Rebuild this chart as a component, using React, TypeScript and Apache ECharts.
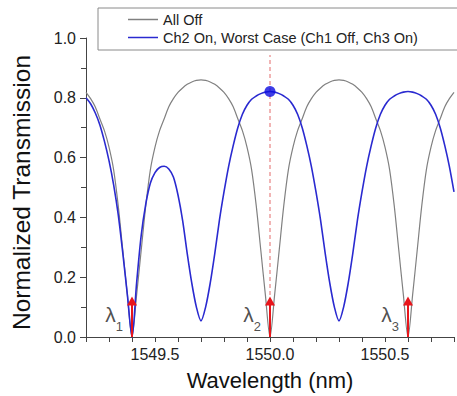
import React, { useEffect, useRef } from 'react';
import * as echarts from 'echarts';

const wavelength = [
  1549.20, 1549.22, 1549.24, 1549.26, 1549.28, 1549.30, 1549.32, 1549.34, 1549.36, 1549.38,
  1549.40, 1549.42, 1549.44, 1549.46, 1549.48, 1549.50, 1549.52, 1549.54, 1549.56, 1549.58,
  1549.60, 1549.62, 1549.64, 1549.66, 1549.68, 1549.70, 1549.72, 1549.74, 1549.76, 1549.78,
  1549.80, 1549.82, 1549.84, 1549.86, 1549.88, 1549.90, 1549.92, 1549.94, 1549.96, 1549.98,
  1550.00, 1550.02, 1550.04, 1550.06, 1550.08, 1550.10, 1550.12, 1550.14, 1550.16, 1550.18,
  1550.20, 1550.22, 1550.24, 1550.26, 1550.28, 1550.30, 1550.32, 1550.34, 1550.36, 1550.38,
  1550.40, 1550.42, 1550.44, 1550.46, 1550.48, 1550.50, 1550.52, 1550.54, 1550.56, 1550.58,
  1550.60, 1550.62, 1550.64, 1550.66, 1550.68, 1550.70, 1550.72, 1550.74, 1550.76, 1550.78,
  1550.80,
];

const allOff = [
  0.818, 0.797, 0.77, 0.73, 0.69, 0.635, 0.56, 0.44, 0.29, 0.14,
  0.0, 0.14, 0.29, 0.44, 0.56, 0.635, 0.69, 0.73, 0.77, 0.797,
  0.818, 0.833, 0.845, 0.853, 0.858, 0.86, 0.858, 0.853, 0.845, 0.833,
  0.818, 0.797, 0.77, 0.73, 0.69, 0.635, 0.56, 0.44, 0.29, 0.14,
  0.0, 0.14, 0.29, 0.44, 0.56, 0.635, 0.69, 0.73, 0.77, 0.797,
  0.818, 0.833, 0.845, 0.853, 0.858, 0.86, 0.858, 0.853, 0.845, 0.833,
  0.818, 0.797, 0.77, 0.73, 0.69, 0.635, 0.56, 0.44, 0.29, 0.14,
  0.0, 0.14, 0.29, 0.44, 0.56, 0.635, 0.69, 0.73, 0.77, 0.797,
  0.818,
];

const ch2On = [
  0.80, 0.78, 0.75, 0.71, 0.655, 0.59, 0.51, 0.41, 0.28, 0.14,
  0.0, 0.18, 0.34, 0.445, 0.515, 0.55, 0.567, 0.571, 0.562, 0.535,
  0.475, 0.39, 0.28, 0.18, 0.10, 0.054, 0.10, 0.18, 0.28, 0.39,
  0.485, 0.57, 0.64, 0.70, 0.745, 0.775, 0.795, 0.806, 0.814, 0.819,
  0.821, 0.819, 0.814, 0.806, 0.795, 0.775, 0.745, 0.70, 0.64, 0.57,
  0.485, 0.39, 0.28, 0.18, 0.10, 0.054, 0.10, 0.18, 0.28, 0.39,
  0.485, 0.57, 0.64, 0.70, 0.745, 0.775, 0.795, 0.806, 0.814, 0.819,
  0.821, 0.819, 0.814, 0.806, 0.795, 0.775, 0.745, 0.70, 0.64, 0.57,
  0.485,
];

const seriesNames = ['All Off', 'Ch2 On, Worst Case (Ch1 Off, Ch3 On)'];
const xTickLabels = ['1549.5', '1550.0', '1550.5'];
const yTickLabels = ['0.0', '0.2', '0.4', '0.6', '0.8', '1.0'];
const lambdaPositions = [1549.4, 1550.0, 1550.6];
const lambdaSubscripts = ['1', '2', '3'];
const arrowTop = 0.12;
const lambdaLabelY = 0.078;
const markerPoint = [1550.0, 0.821];
const dashedLine = [
  [1550.0, 0.0],
  [1550.0, 0.943],
];

const FONT = '"Liberation Sans", Arial, Helvetica, sans-serif';

export default function App() {
  const ref = useRef<HTMLDivElement>(null);

  useEffect(() => {
    if (!ref.current) return;
    const chart = echarts.init(ref.current, null, { renderer: 'svg' });
    chart.setOption({
      animation: false,
      backgroundColor: '#ffffff',
      grid: { left: 86, right: -7, top: 38, bottom: 58 },
      legend: {
        data: seriesNames,
        orient: 'vertical',
        left: 98,
        top: 8,
        icon: 'rect',
        itemWidth: 30,
        itemHeight: 1.5,
        itemGap: 3,
        padding: [4, 44, 5, 30],
        borderColor: '#8a8a8a',
        borderWidth: 1,
        textStyle: { fontSize: 14.5, color: '#222', fontFamily: FONT },
        selectedMode: false,
      },
      xAxis: {
        type: 'value',
        min: 1549.2,
        max: 1550.8,
        interval: 0.1,
        axisLine: { show: true, onZero: false, lineStyle: { color: '#444', width: 1 } },
        axisTick: { show: true, inside: false, length: 5, lineStyle: { color: '#444' } },
        axisLabel: {
          fontSize: 16,
          color: '#222',
          fontFamily: FONT,
          margin: 9,
          formatter: (v: number) => {
            const s = v.toFixed(1);
            return xTickLabels.includes(s) ? s : '';
          },
        },
        splitLine: { show: false },
        name: 'Wavelength (nm)',
        nameLocation: 'middle',
        nameGap: 32,
        nameTextStyle: { fontSize: 22, color: '#111', fontFamily: FONT },
      },
      yAxis: {
        type: 'value',
        min: 0,
        max: 1,
        interval: 0.2,
        axisLine: { show: true, lineStyle: { color: '#444', width: 1 } },
        axisTick: { show: true, inside: false, length: 6, lineStyle: { color: '#444' } },
        minorTick: { show: true, splitNumber: 2, length: 5, lineStyle: { color: '#444' } },
        axisLabel: {
          fontSize: 16,
          color: '#222',
          fontFamily: FONT,
          margin: 10,
          formatter: (v: number) => {
            const s = v.toFixed(1);
            return yTickLabels.includes(s) ? s : '';
          },
        },
        splitLine: { show: false },
        name: 'Normalized Transmission',
        nameLocation: 'middle',
        nameGap: 52,
        nameTextStyle: { fontSize: 24.5, color: '#111', fontFamily: FONT, padding: [0, 10, 0, 0] },
      },
      series: [
        {
          type: 'line',
          name: 'dashed',
          data: dashedLine,
          symbol: 'none',
          silent: true,
          lineStyle: { color: '#e36a6a', width: 1, type: [4, 3] },
          z: 1,
        },
        {
          type: 'line',
          name: seriesNames[0],
          data: wavelength.map((x, i) => [x, allOff[i]]),
          symbol: 'none',
          smooth: 0.3,
          color: '#808080',
          lineStyle: { color: '#808080', width: 1.2 },
          z: 2,
        },
        {
          type: 'line',
          name: seriesNames[1],
          data: wavelength.map((x, i) => [x, ch2On[i]]),
          symbol: 'none',
          smooth: 0.3,
          color: '#2a2ad0',
          lineStyle: { color: '#2a2ad0', width: 1.6 },
          z: 3,
        },
        {
          type: 'scatter',
          name: 'marker',
          data: [markerPoint],
          symbolSize: 11,
          itemStyle: { color: '#0c0ce0' },
          z: 5,
        },
        {
          type: 'scatter',
          name: 'lambda',
          data: lambdaPositions.map((x) => [x, lambdaLabelY]),
          symbolSize: 0,
          silent: true,
          z: 6,
          label: {
            show: true,
            position: 'left',
            distance: 9,
            formatter: (p: any) => `{l|λ}{s|${lambdaSubscripts[p.dataIndex]}}`,
            rich: {
              l: { fontSize: 21, color: '#222', fontFamily: FONT, lineHeight: 20, verticalAlign: 'top' },
              s: {
                fontSize: 13,
                color: '#222',
                fontFamily: FONT,
                lineHeight: 13,
                verticalAlign: 'top',
                padding: [16, 0, 0, 0],
              },
            },
          },
          markLine: {
            silent: true,
            symbol: ['none', 'triangle'],
            symbolSize: [10, 9],
            label: { show: false },
            lineStyle: { color: '#e8151b', width: 2, type: 'solid' },
            data: lambdaPositions.map((x) => [{ coord: [x, 0] }, { coord: [x, arrowTop] }]),
          },
        },
      ],
    });
    return () => chart.dispose();
  }, []);

  return (
    <div
      ref={ref}
      style={{ position: 'fixed', left: 0, top: 0, width: 457, height: 396, background: '#fff' }}
    />
  );
}
